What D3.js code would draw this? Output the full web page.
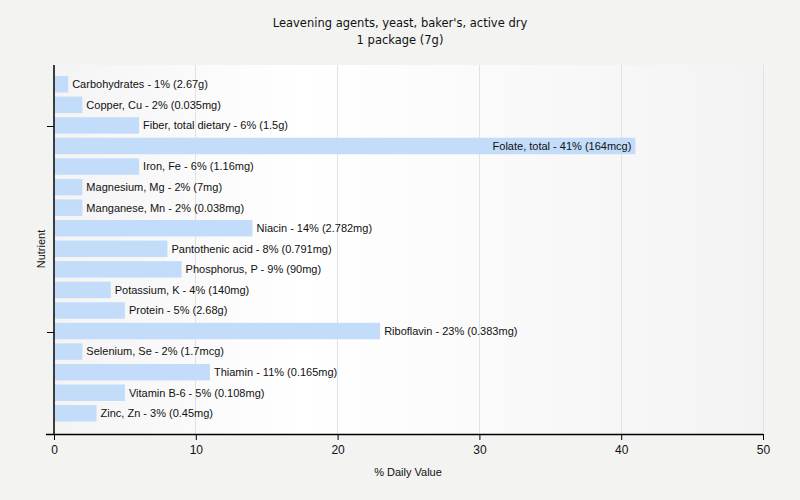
<!DOCTYPE html>
<html><head><meta charset="utf-8">
<script src="https://cdn.jsdelivr.net/npm/d3@7"></script>
<style>body{margin:0;background:#f3f3f2;} svg{display:block;}</style>
</head><body>
<script>
const nutrients = ["Carbohydrates","Copper, Cu","Fiber, total dietary","Folate, total","Iron, Fe","Magnesium, Mg","Manganese, Mn","Niacin","Pantothenic acid","Phosphorus, P","Potassium, K","Protein","Riboflavin","Selenium, Se","Thiamin","Vitamin B-6","Zinc, Zn"];
const values = [1,2,6,41,6,2,2,14,8,9,4,5,23,2,11,5,3];
const amounts = ["2.67g","0.035mg","1.5g","164mcg","1.16mg","7mg","0.038mg","2.782mg","0.791mg","90mg","140mg","2.68g","0.383mg","1.7mcg","0.165mg","0.108mg","0.45mg"];
const xTicks = [0,10,20,30,40,50];
const yTickNutrients = ["Fiber, total dietary","Riboflavin"];
const titleLines = ["Leavening agents, yeast, baker's, active dry","1 package (7g)"];

const W=800,H=500, L=54, R=763, T=65, B=434;
const svg = d3.select("body").append("svg").attr("width",W).attr("height",H);
const defs = svg.append("defs");
const g = defs.append("linearGradient").attr("id","bg");
g.append("stop").attr("offset","0%").attr("stop-color","#f4f4f4");
g.append("stop").attr("offset","35%").attr("stop-color","#ffffff");
g.append("stop").attr("offset","100%").attr("stop-color","#f3f3f3");
svg.append("rect").attr("x",L).attr("y",T).attr("width",R-L).attr("height",B-T).attr("fill","url(#bg)");

const x = d3.scaleLinear().domain([0,50]).range([L,R]);
const y = d3.scaleBand().domain(nutrients).range([74,423.6]).paddingInner(0.2).paddingOuter(0.1);

svg.selectAll(".grid").data(xTicks.slice(1)).enter().append("line")
  .attr("x1",d=>x(d)).attr("x2",d=>x(d)).attr("y1",T).attr("y2",B)
  .attr("stroke","#e2e2e2").attr("stroke-width",1).attr("shape-rendering","crispEdges");

const data = nutrients.map((n,i)=>({n, v:values[i], a:amounts[i]}));
svg.selectAll(".bar").data(data).enter().append("rect")
  .attr("x",x(0)+1).attr("y",d=>y(d.n)).attr("width",d=>x(d.v)-x(0)-1).attr("height",y.bandwidth())
  .attr("fill","#c2dcfa");

svg.selectAll(".lbl").data(data).enter().append("text")
  .attr("font-family","'Liberation Sans', Arial, sans-serif").attr("font-size","11px").attr("fill","#111")
  .attr("y",d=>y(d.n)+y.bandwidth()/2).attr("dy","0.35em")
  .text(d=>`${d.n} - ${d.v}% (${d.a})`)
  .each(function(d){
    const t=d3.select(this); const w=this.getComputedTextLength();
    if (x(d.v)+4+w > R) t.attr("x",x(d.v)-4).attr("text-anchor","end");
    else t.attr("x",x(d.v)+4).attr("text-anchor","start");
  });

const xa = svg.append("g").attr("transform",`translate(0,${B})`)
  .call(d3.axisBottom(x).tickValues(xTicks).tickSize(6).tickSizeOuter(0).tickFormat(d3.format("d")));
xa.select(".domain").attr("stroke","#000").attr("stroke-width",1.5).attr("d",`M${L-8},0.5H${R}`);
xa.selectAll(".tick line").attr("stroke","#000");
xa.selectAll("text").attr("font-family","'Liberation Sans', Arial, sans-serif").attr("font-size","12px").attr("fill","#111").attr("dy","0.9em");

const ya = svg.append("g").attr("transform",`translate(${L},0)`);
ya.append("line").attr("x1",0).attr("x2",0).attr("y1",T).attr("y2",B).attr("stroke","#000").attr("stroke-width",1.5);
ya.selectAll(".yt").data(yTickNutrients).enter().append("line")
  .attr("x1",-7).attr("x2",0).attr("y1",d=>Math.round(y(d)+y.bandwidth()/2)+1.5).attr("y2",d=>Math.round(y(d)+y.bandwidth()/2)+1.5)
  .attr("stroke","#000");

svg.append("text").attr("x",408).attr("y",476).attr("text-anchor","middle")
  .attr("font-family","'Liberation Sans', Arial, sans-serif").attr("font-size","11px").attr("fill","#111").text("% Daily Value");
svg.append("text").attr("transform","translate(45,249) rotate(-90)").attr("text-anchor","middle")
  .attr("font-family","'Liberation Sans', Arial, sans-serif").attr("font-size","11px").attr("fill","#111").text("Nutrient");

svg.selectAll(".title").data(titleLines).enter().append("text")
  .attr("x",400).attr("y",(d,i)=>27+i*17).attr("text-anchor","middle")
  .attr("font-family","'DejaVu Sans', sans-serif").attr("font-size","11.5px").attr("fill","#111").text(d=>d);
</script>
</body></html>
